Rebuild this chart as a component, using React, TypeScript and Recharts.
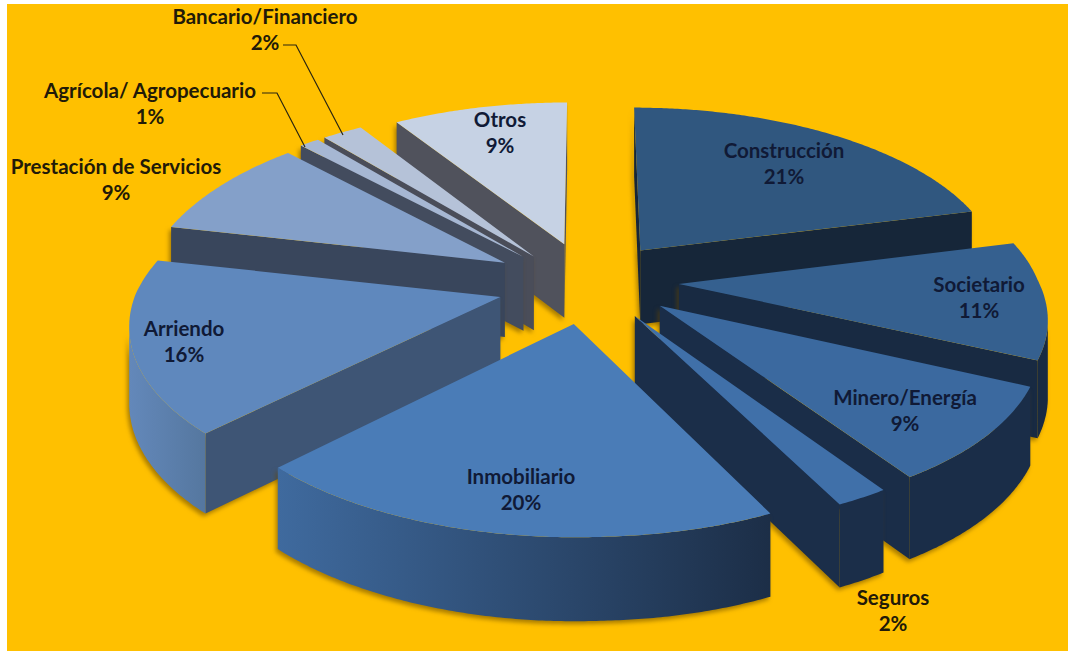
import React from 'react';
import { PieChart, Pie } from 'recharts';

const CATEGORIES = [
  'Construcción', 'Societario', 'Minero/Energía', 'Seguros', 'Inmobiliario',
  'Arriendo', 'Prestación de Servicios', 'Agrícola/ Agropecuario', 'Bancario/Financiero', 'Otros',
];
const SHARES = [21, 11, 9, 2, 20, 16, 9, 1, 2, 9];

// colours per slice: top face, cut face, outer wall (left and right end)
const TOP_COLORS = ['#30577f', '#35608f', '#3b699f', '#4070a9', '#4a7cb7', '#5f88bd', '#84a0c9', '#a6b7d3', '#b5c2d8', '#c6d2e4'];
const CUT_COLORS = ['#162639', '#182a42', '#1a2d48', '#1b2e49', '#1e3049', '#3e5575', '#39465c', '#434c5e', '#4a4d59', '#50525c'];
const WALL_LEFT = ['#162639', '#182a42', '#1a2d48', '#1b2e49', '#3f6a9e', '#6388ba', '#5a78a3', '#434c5e', '#4a4d59', '#50525c'];
const WALL_RIGHT = ['#162639', '#182a42', '#1a2d48', '#1b2e49', '#1c2e47', '#55779f', '#39465c', '#434c5e', '#4a4d59', '#50525c'];

// back to front, so nearer slices cover the ones behind them
const DRAW_ORDER = [9, 8, 7, 6, 0, 1, 2, 5, 3, 4];

// hand-tuned pixel offsets and radius factors on top of the radial explosion
const SLICE_NUDGE = [[0, 0], [3, -2], [2, -4], [0, -3], [-1, 0], [-3, 3], [-9, 0], [-8, 4], [-4, 6], [0, 0]];
const SLICE_REACH = [1, 0.985, 1, 1, 1, 1, 1, 1.03, 1.05, 1];

// centre of each two-line label
const LABEL_SPOTS = [
  [784, 150], [979, 284], [905, 397], [893, 597], [521, 476],
  [184, 328], [116, 166], [150, 90], [265, 16], [500, 119],
];
const OUTSIDE_LABELS = [3, 6, 7, 8];

const WIDTH = 1068;
const HEIGHT = 651;
const CX = 588;
const CY = 282;
const RADIUS = 365;
const TILT = 0.468;
const PERSPECTIVE = 0.139;
const SHEAR = 16;
const ROLL = 7;
const DEPTH = 75;
const EXPLODE = 0.24;

const rows = CATEGORIES.map((name, i) => ({ name, value: SHARES[i] }));

// flat pie coordinates (radius 1) to screen, lift is 0 on top and 1 on the underside
const project = (u: number, v: number, lift = 0) => {
  const d = 1 - PERSPECTIVE * v;
  const roll = ROLL * Math.max(0, -u) * Math.min(1, Math.max(0, v + 1));
  return {
    x: CX + (RADIUS * u) / d + SHEAR * Math.max(0, v),
    y: CY + (RADIUS * TILT * v) / d + (DEPTH * lift) / Math.pow(d, 0.6) + roll,
  };
};

const toPath = (pts: { x: number; y: number }[]) =>
  pts.map((p, i) => `${i ? 'L' : 'M'}${p.x.toFixed(1)} ${p.y.toFixed(1)}`).join('') + 'Z';

const rad = (deg: number) => (deg * Math.PI) / 180;

const SliceShape = ({ startAngle, endAngle, slice }: any) => {
  // recharts angles run counter-clockwise from 3 o'clock, here clockwise from 12
  const t0 = 90 - startAngle;
  const t1 = 90 - endAngle;
  const mid = rad((t0 + t1) / 2);
  const ou = EXPLODE * Math.sin(mid);
  const ov = -EXPLODE * Math.cos(mid);
  const reach = SLICE_REACH[slice];

  const rim: { u: number; v: number }[] = [];
  const steps = Math.max(2, Math.ceil((t1 - t0) * 2));
  for (let i = 0; i <= steps; i++) {
    const t = rad(t0 + ((t1 - t0) * i) / steps);
    rim.push({ u: ou + reach * Math.sin(t), v: ov - reach * Math.cos(t) });
  }

  const top = [project(ou, ov), ...rim.map((p) => project(p.u, p.v))];
  const band = (a: { u: number; v: number }[]) => [
    ...a.map((p) => project(p.u, p.v)),
    ...[...a].reverse().map((p) => project(p.u, p.v, 1)),
  ];

  // only faces on the lower side of the outline can be seen
  const apex = { u: ou, v: ov };
  const first = rim[0];
  const last = rim[rim.length - 1];
  const faces: React.ReactNode[] = [];
  if (project(first.u, first.v).x < project(apex.u, apex.v).x) {
    faces.push(<path key="a" d={toPath(band([apex, first]))} fill={CUT_COLORS[slice]} />);
  }
  if (project(apex.u, apex.v).x < project(last.u, last.v).x) {
    faces.push(<path key="b" d={toPath(band([last, apex]))} fill={CUT_COLORS[slice]} />);
  }

  const run: { u: number; v: number }[] = [];
  for (let i = 1; i < rim.length; i++) {
    if (project(rim[i].u, rim[i].v).x < project(rim[i - 1].u, rim[i - 1].v).x) {
      if (!run.length) run.push(rim[i - 1]);
      run.push(rim[i]);
    }
  }
  let wall: React.ReactNode = null;
  if (run.length > 1) {
    const pts = band(run);
    const xs = pts.map((p) => p.x);
    const id = `wall-${slice}`;
    wall = (
      <>
        <defs>
          <linearGradient id={id} gradientUnits="userSpaceOnUse" x1={Math.min(...xs)} x2={Math.max(...xs)} y1={0} y2={0}>
            <stop offset="0" stopColor={WALL_LEFT[slice]} />
            <stop offset="1" stopColor={WALL_RIGHT[slice]} />
          </linearGradient>
        </defs>
        <path d={toPath(pts)} fill={`url(#${id})`} />
      </>
    );
  }

  const [nx, ny] = SLICE_NUDGE[slice];
  return (
    <g transform={`translate(${nx} ${ny})`}>
      <g style={{ filter: 'drop-shadow(-2px 3px 2px rgba(100,70,0,0.55))' }}>
        {faces}
        {wall}
      </g>
      <path d={toPath(top)} fill={TOP_COLORS[slice]} />
    </g>
  );
};

const drawOnly = (slice: number) => (props: any) =>
  props.name === CATEGORIES[slice] ? <SliceShape {...props} slice={slice} /> : <g />;

const SliceLabel = ({ index }: any) => {
  const [x, y] = LABEL_SPOTS[index];
  const outside = OUTSIDE_LABELS.includes(index);
  const common = {
    x,
    textAnchor: 'middle' as const,
    dominantBaseline: 'central' as const,
    fontFamily: 'Lato',
    fontWeight: 700,
    fontSize: 20.5,
    fill: outside ? '#221a08' : '#101a36',
  };
  return (
    <g>
      <text {...common} y={y}>{CATEGORIES[index]}</text>
      <text {...common} y={y + 26}>{`${SHARES[index]}%`}</text>
    </g>
  );
};

export default function App() {
  return (
    <div style={{ position: 'relative', width: WIDTH, height: HEIGHT, background: '#fff', overflow: 'hidden' }}>
      <style>{'body{margin:0;background:#fff}'}</style>
      <div style={{ position: 'absolute', left: 7, top: 4, right: 0, bottom: 0, background: '#ffc000' }} />
      <PieChart width={WIDTH} height={HEIGHT} margin={{ top: 0, right: 0, bottom: 0, left: 0 }} style={{ position: 'absolute', left: 0, top: 0 }}>
        {DRAW_ORDER.map((slice) => (
          <Pie
            key={slice}
            data={rows}
            dataKey="value"
            nameKey="name"
            cx={CX}
            cy={CY}
            outerRadius={RADIUS}
            startAngle={90}
            endAngle={-270}
            stroke="none"
            shape={drawOnly(slice)}
            isAnimationActive={false}
          />
        ))}
        <Pie
          data={rows}
          dataKey="value"
          nameKey="name"
          cx={CX}
          cy={CY}
          outerRadius={RADIUS}
          startAngle={90}
          endAngle={-270}
          stroke="none"
          shape={() => <g />}
          label={(props: any) => <SliceLabel {...props} />}
          labelLine={false}
          isAnimationActive={false}
        />
      </PieChart>
      <svg width={WIDTH} height={HEIGHT} style={{ position: 'absolute', left: 0, top: 0, pointerEvents: 'none' }}>
        <polyline points="283,45 296,45 343,135" fill="none" stroke="#2a2510" strokeWidth={1.2} />
        <polyline points="262,93 277,93 305,147" fill="none" stroke="#2a2510" strokeWidth={1.2} />
      </svg>
    </div>
  );
}
